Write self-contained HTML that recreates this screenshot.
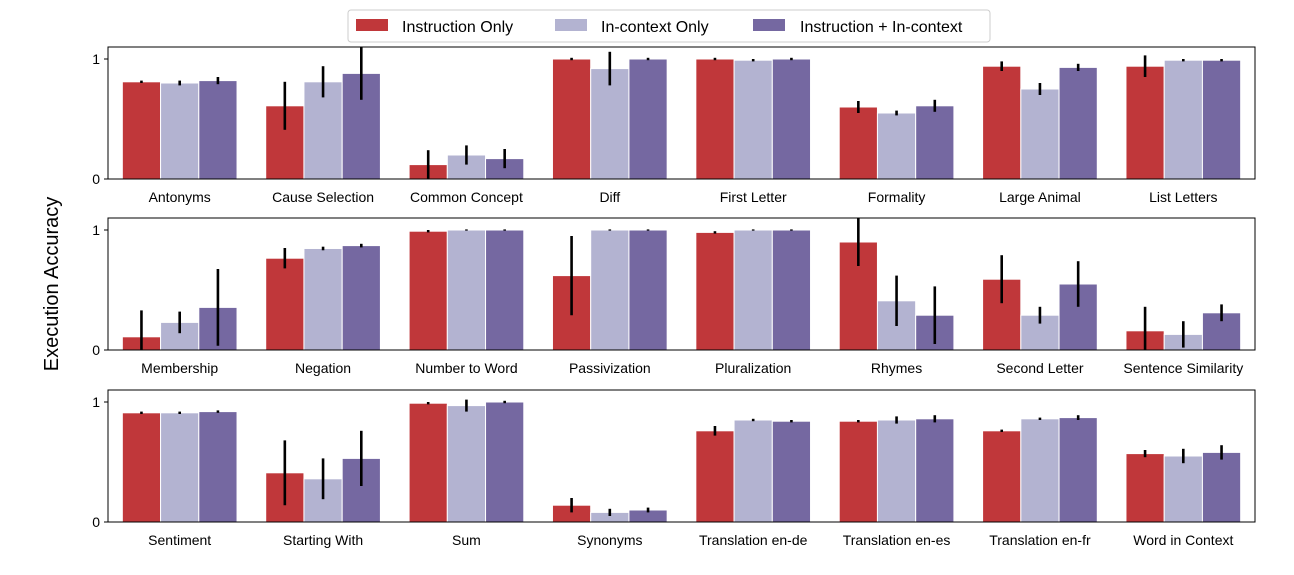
<!DOCTYPE html>
<html><head><meta charset="utf-8"><style>
body{margin:0;background:#fff;}
svg text{font-family:"Liberation Sans",sans-serif;fill:#000;}
</style></head><body>
<svg id="chart" width="1294" height="570" xmlns="http://www.w3.org/2000/svg">
<defs>
<clipPath id="c0"><rect x="108" y="47" width="1147" height="132"/></clipPath>
<clipPath id="c1"><rect x="108" y="218" width="1147" height="132"/></clipPath>
<clipPath id="c2"><rect x="108" y="390" width="1147" height="131"/></clipPath>
</defs>
<text x="0" y="0" font-size="20" text-anchor="middle" transform="translate(58,284) rotate(-90)">Execution Accuracy</text>
<g>
<rect x="348" y="10" width="642" height="32" rx="3" fill="#fff" stroke="#ccc"/>
<rect x="356" y="19" width="32" height="12" fill="#c0373a"/>
<text x="402" y="32" font-size="16">Instruction Only</text>
<rect x="555" y="19" width="32" height="12" fill="#b3b3d1"/>
<text x="601" y="32" font-size="16">In-context Only</text>
<rect x="753" y="19" width="32" height="12" fill="#7568a1"/>
<text x="800" y="32" font-size="16">Instruction + In-context</text>
</g>
</svg>
<script>
const rowCategories=[
["Antonyms","Cause Selection","Common Concept","Diff","First Letter","Formality","Large Animal","List Letters"],
["Membership","Negation","Number to Word","Passivization","Pluralization","Rhymes","Second Letter","Sentence Similarity"],
["Sentiment","Starting With","Sum","Synonyms","Translation en-de","Translation en-es","Translation en-fr","Word in Context"]];
const instructionOnly=[
[0.81,0.61,0.12,1.0,1.0,0.60,0.94,0.94],
[0.11,0.765,0.99,0.62,0.98,0.90,0.59,0.16],
[0.91,0.41,0.99,0.14,0.76,0.84,0.76,0.57]];
const instructionErr=[
[0.01,0.2,0.12,0.01,0.01,0.05,0.04,0.09],
[0.22,0.085,0.01,0.33,0.01,0.2,0.2,0.2],
[0.01,0.27,0.01,0.06,0.04,0.01,0.01,0.03]];
const incontextOnly=[
[0.80,0.81,0.20,0.92,0.99,0.55,0.75,0.99],
[0.23,0.846,1.0,1.0,1.0,0.41,0.29,0.13],
[0.91,0.36,0.97,0.08,0.85,0.85,0.86,0.55]];
const incontextErr=[
[0.02,0.13,0.08,0.14,0.01,0.02,0.05,0.01],
[0.09,0.015,0.005,0.005,0.005,0.21,0.07,0.11],
[0.01,0.17,0.05,0.03,0.01,0.03,0.01,0.06]];
const bothValues=[
[0.82,0.88,0.17,1.0,1.0,0.61,0.93,0.99],
[0.355,0.87,1.0,1.0,1.0,0.29,0.55,0.31],
[0.92,0.53,1.0,0.10,0.84,0.86,0.87,0.58]];
const bothErr=[
[0.03,0.22,0.08,0.01,0.01,0.05,0.03,0.01],
[0.32,0.015,0.005,0.005,0.005,0.24,0.19,0.07],
[0.01,0.23,0.01,0.02,0.01,0.03,0.02,0.06]];
const yTicks=[0,1];
const svg=document.getElementById('chart');
const NS='http://www.w3.org/2000/svg';
const L=108,R=1255,tops=[47,218,390],H=132,YMAX=1.1;
const colors=['#c0373a','#b3b3d1','#7568a1'];
const seriesNames=['instruction','in-context','both'];
function mk(t,a){const e=document.createElementNS(NS,t);for(const k in a)e.setAttribute(k,a[k]);svg.appendChild(e);return e;}
for(let r=0;r<3;r++){
  const top=tops[r],bot=top+H;
  const xs=i=>L+(R-L)*(i+0.5)/8;
  const ys=v=>bot-v/YMAX*H;
  const step=(R-L)/8,bw=step*0.8/3;
  const vals=[instructionOnly[r],incontextOnly[r],bothValues[r]];
  const errs=[instructionErr[r],incontextErr[r],bothErr[r]];
  for(let i=0;i<8;i++){
    for(let s=0;s<3;s++){
      const cx=xs(i)+(s-1)*bw;
      const b=mk('rect',{x:cx-bw/2,y:ys(vals[s][i]),width:bw,height:bot-ys(vals[s][i]),fill:colors[s],stroke:'#fff','stroke-width':1});
      
      
    }
    for(let s=0;s<3;s++){
      const cx=xs(i)+(s-1)*bw;
      const e=mk('line',{x1:cx,x2:cx,y1:ys(vals[s][i]-errs[s][i]),y2:ys(vals[s][i]+errs[s][i]),stroke:'#000','stroke-width':2.6,'clip-path':'url(#c'+r+')'});
      
      
    }
    const t=mk('text',{x:xs(i),y:bot+23,'font-size':14,'text-anchor':'middle'});
    t.textContent=rowCategories[r][i];
    
    
  }
  const ax=mk('rect',{x:L,y:top,width:R-L,height:H,fill:'none',stroke:'#000','stroke-width':1});
  
  
  yTicks.forEach(v=>{
    mk('line',{x1:L-4,x2:L,y1:ys(v),y2:ys(v),stroke:'#000','stroke-width':1});
    const t=mk('text',{x:L-8,y:ys(v)+5,'font-size':14,'text-anchor':'end'});
    t.textContent=String(v);
    
    
  });
}
</script>
</body></html>
